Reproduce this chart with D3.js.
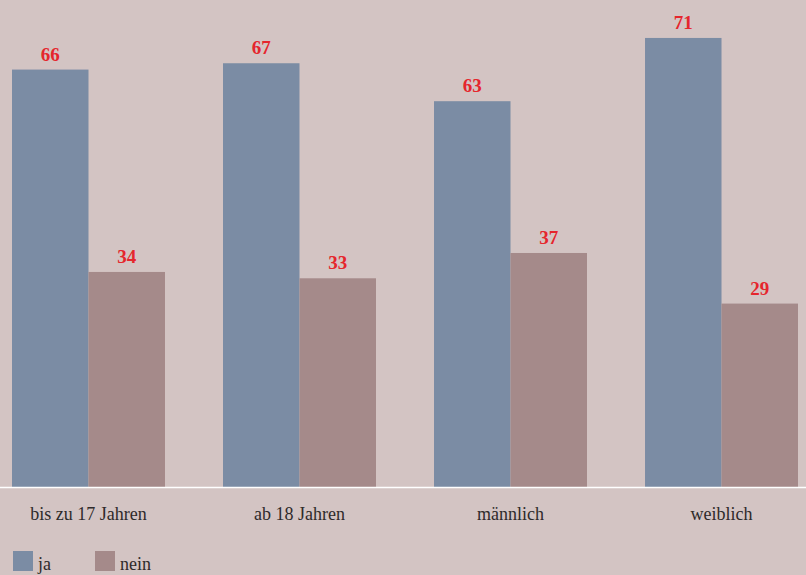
<!DOCTYPE html>
<html>
<head>
<meta charset="utf-8">
<script src="https://cdn.jsdelivr.net/npm/d3@7"></script>
<style>
  body { margin: 0; background: #d3c4c3; }
  svg { display: block; }
</style>
</head>
<body>
<svg id="chart"></svg>
<script>
const width = 806;
const height = 575;
const baseline = 487;

const groups = ['bis zu 17 Jahren', 'ab 18 Jahren', 'männlich', 'weiblich'];
const series = ['ja', 'nein'];
// bar heights as drawn in the picture (the "männlich / ja" bar is drawn shorter than its label)
const jaValues = [66, 67, 61, 71];
const neinValues = [34, 33, 37, 29];
// value labels as printed
const jaLabels = ['66', '67', '63', '71'];
const neinLabels = ['34', '33', '37', '29'];
const colors = ['#7b8ca4', '#a58a8a'];

const svg = d3.select('#chart')
    .attr('width', width)
    .attr('height', height)
    .style('font-family', '"Liberation Serif", serif');

svg.append('rect').attr('width', width).attr('height', height).attr('fill', '#d3c4c3');

const x0 = d3.scaleBand().domain(groups).range([12, 798]).paddingInner(0.275);
const x1 = d3.scaleBand().domain(series).range([0, x0.bandwidth()]);
const y = d3.scaleLinear().domain([0, 77]).range([baseline, 0]);
const color = d3.scaleOrdinal().domain(series).range(colors);

const data = groups.map((g, i) => ({group: g, values: [
    {key: 'ja', value: jaValues[i], label: jaLabels[i]},
    {key: 'nein', value: neinValues[i], label: neinLabels[i]}
]}));

const g = svg.selectAll('g.group').data(data).enter().append('g')
    .attr('class', 'group')
    .attr('transform', d => `translate(${x0(d.group)},0)`);

g.selectAll('rect').data(d => d.values).enter().append('rect')
    .attr('x', d => x1(d.key))
    .attr('y', d => y(d.value))
    .attr('width', x1.bandwidth())
    .attr('height', d => baseline - y(d.value))
    .attr('fill', d => color(d.key));

g.selectAll('text.val').data(d => d.values).enter().append('text')
    .attr('class', 'val')
    .attr('x', d => x1(d.key) + x1.bandwidth() / 2)
    .attr('y', d => y(d.value) - 9)
    .attr('text-anchor', 'middle')
    .attr('fill', '#e5262d')
    .attr('font-weight', 'bold')
    .attr('font-size', 19)
    .text(d => d.label);

// baseline
svg.append('line')
    .attr('x1', 0).attr('x2', width)
    .attr('y1', baseline + 0.5).attr('y2', baseline + 0.5)
    .attr('stroke', '#fff').attr('stroke-width', 1.5);

// category labels
const xAxis = svg.append('g').attr('transform', `translate(0,${baseline})`)
    .call(d3.axisBottom(x0).tickSize(0).tickPadding(0));
xAxis.select('.domain').remove();
xAxis.selectAll('text')
    .attr('y', 33)
    .attr('dy', 0)
    .attr('font-size', 18)
    .attr('font-family', '"Liberation Serif", serif')
    .attr('fill', '#2e2a2a');

// legend
const legend = svg.append('g').selectAll('g').data(series).enter().append('g')
    .attr('transform', (d, i) => `translate(${13 + i * 82},551)`);
legend.append('rect').attr('width', 20).attr('height', 20).attr('fill', d => color(d));
legend.append('text')
    .attr('x', 25).attr('y', 19)
    .attr('font-size', 18)
    .attr('fill', '#2e2a2a')
    .text(d => d);
</script>
</body>
</html>
